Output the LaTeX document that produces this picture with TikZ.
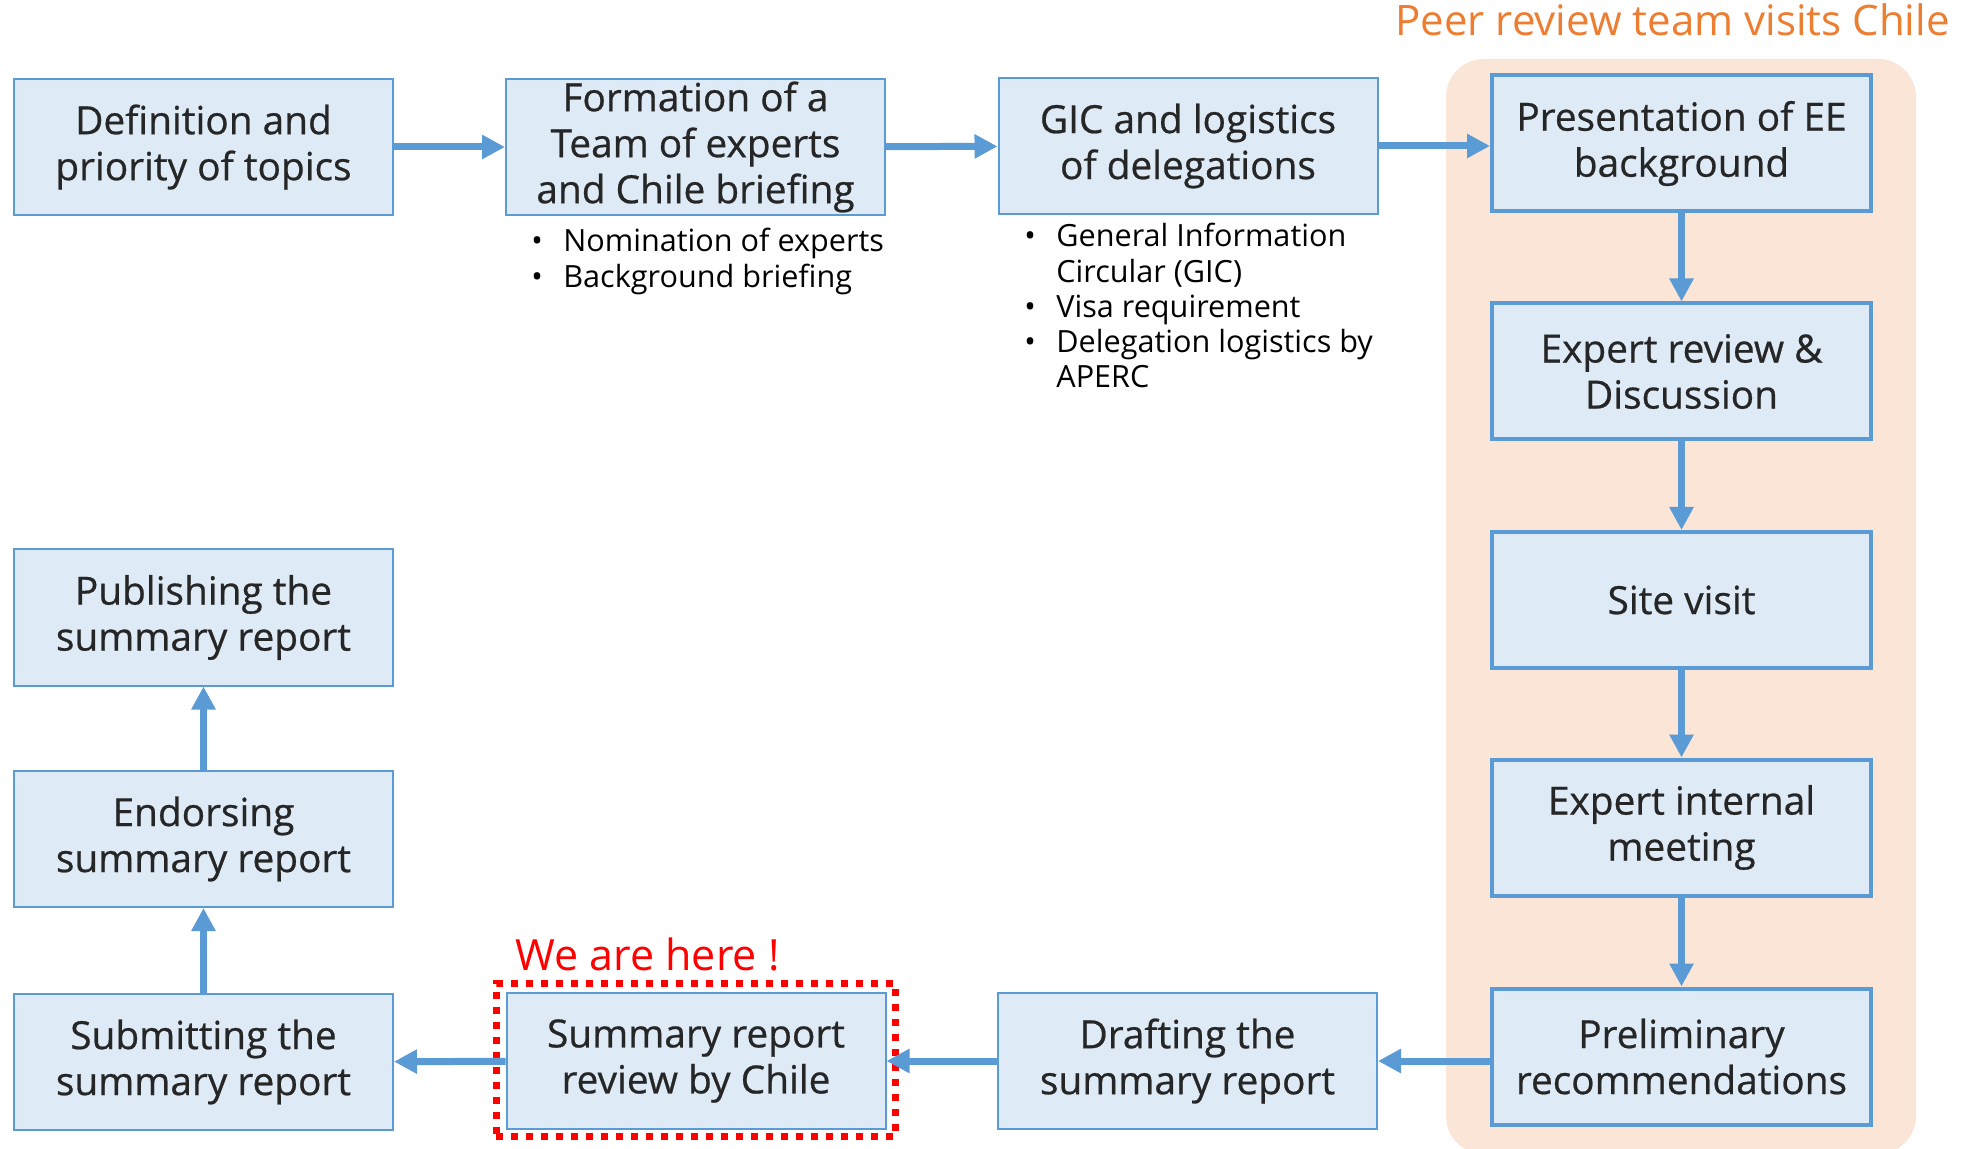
\documentclass[tikz,border=0pt]{standalone}
\usepackage{fontspec}
\setmainfont{Open Sans}
\newfontfamily\boxff{Open Sans}[FakeBold=0.6]
\usetikzlibrary{arrows.meta}
\definecolor{bblue}{HTML}{5B9BD5}
\definecolor{bfill}{HTML}{DEEBF7}
\definecolor{peach}{HTML}{FBE5D6}
\definecolor{orng}{HTML}{ED7D31}
\definecolor{tgray}{HTML}{262626}
\newcommand\boxfont{\boxff\fontsize{19.4}{23}\selectfont}
\newcommand\listfont{\fontsize{15.3}{17.6}\selectfont}
\newcommand\bul{\makebox[16pt][l]{\textbullet}}
\tikzset{
  box/.style={draw=bblue, fill=bfill, line width=1pt, minimum width=189.5pt,
    minimum height=68pt, align=center, text=tgray, font=\boxfont, inner sep=0pt},
  tbox/.style={box, line width=2pt},
  arr/.style={draw=bblue, line width=3.5pt, -{Triangle[length=11.5pt,width=11.5pt]}},
  blist/.style={anchor=base west, inner sep=0pt, text=black, font=\listfont, align=left},
}
\begin{document}
\begin{tikzpicture}[x=0.5pt,y=-0.5pt]
\useasboundingbox (0,0) rectangle (1964,1149);
\fill[peach, rounded corners=19pt] (1446,59) rectangle (1916,1154);
\node[anchor=base east, inner sep=0pt, text=orng, font=\fontsize{21}{25}\selectfont] (title) at (1950,36) {Peer review team visits Chile};

\node[box] (def) at (203.5,147) {Definition and\\priority of topics};
\node[box] (form) at (695.5,147) {Formation of a\\Team of experts\\and Chile briefing};
\node[box] (gic) at (1188,146) {GIC and logistics\\of delegations};
\node[tbox] (pres) at (1681.5,143.5) {Presentation of EE\\background};
\node[tbox] (rev) at (1681.5,371.5) {Expert review \&\\Discussion};
\node[tbox] (site) at (1681.5,600) {Site visit};
\node[tbox] (meet) at (1681.5,827.5) {Expert internal\\meeting};
\node[tbox] (prel) at (1681.5,1056.5) {Preliminary\\recommendations};
\node[box] (draft) at (1187.5,1061) {Drafting the\\summary report};
\node[box] (summ) at (696,1061) {Summary report\\review by Chile};
\node[box] (subm) at (203.5,1062) {Submitting the\\summary report};
\node[box] (endo) at (203.5,839) {Endorsing\\summary report};
\node[box] (publ) at (203.5,617.5) {Publishing the\\summary report};

\node[draw=red, line width=3.5pt, dash pattern=on 3.5pt off 4pt, minimum width=199.5pt, minimum height=76.75pt, inner sep=0pt] (here) at (695.5,1059.75) {};
\node[anchor=base west, inner sep=0pt, text=red, font=\fontsize{21.5}{25}\selectfont] (herelbl) at (515,970) {We are here !};

\node[blist] (formlist) at (531,252) {\begin{tabular}[t]{@{}l@{}}\bul Nomination of experts\\ \bul Background briefing\end{tabular}};
\node[blist] (giclist) at (1024,247) {\begin{tabular}[t]{@{}l@{}}\bul General Information\\ \hspace{16pt}Circular (GIC)\\ \bul Visa requirement\\ \bul Delegation logistics by\\ \hspace{16pt}APERC\end{tabular}};

\draw[arr] (def) -- (form);
\draw[arr] (form) -- (gic);
\draw[arr] (gic.east) -- (pres.west |- gic.east);
\draw[arr] (pres) -- (rev);
\draw[arr] (rev) -- (site);
\draw[arr] (site) -- (meet);
\draw[arr] (meet) -- (prel);
\draw[arr] (prel.west |- draft.east) -- (draft.east);
\draw[arr] (draft) -- (summ);
\draw[arr] (summ) -- (subm);
\draw[arr] (subm) -- (endo);
\draw[arr] (endo) -- (publ);
\end{tikzpicture}
\end{document}
